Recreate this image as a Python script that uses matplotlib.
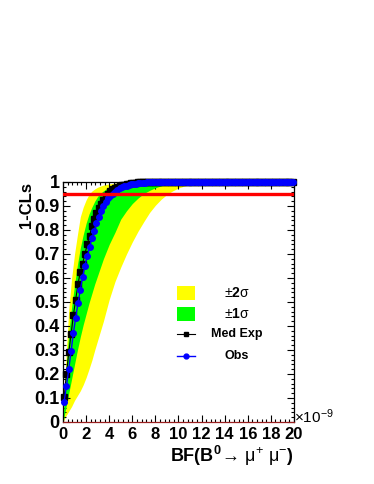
import numpy as np
import matplotlib
matplotlib.use("Agg")
import matplotlib.pyplot as plt
from matplotlib.patches import Rectangle
from matplotlib.lines import Line2D

plt.rcParams['font.family'] = ['Liberation Sans', 'DejaVu Sans']
plt.rcParams['mathtext.fontset'] = 'custom'
plt.rcParams['mathtext.rm'] = 'Liberation Sans'
plt.rcParams['mathtext.bf'] = 'Liberation Sans:bold'
plt.rcParams['mathtext.it'] = 'Liberation Sans:italic'

# scan points (units of 1e-9)
x_scan = np.round(np.arange(0.1, 20.0, 0.2), 1)

med_exp = [0.105, 0.20, 0.29, 0.365, 0.445, 0.51, 0.575, 0.625, 0.66, 0.70,
           0.74, 0.775, 0.815, 0.845, 0.87, 0.89, 0.91, 0.926, 0.94, 0.951,
           0.961, 0.969, 0.975, 0.979, 0.983, 0.986, 0.989, 0.991, 0.993, 0.995,
           0.996, 0.997, 0.998, 0.998, 0.999, 0.999, 0.999, 1.0, 1.0, 1.0,
           1.0, 1.0, 1.0, 1.0, 1.0, 1.0, 1.0, 1.0, 1.0, 1.0,
           1.0, 1.0, 1.0, 1.0, 1.0, 1.0, 1.0, 1.0, 1.0, 1.0,
           1.0, 1.0, 1.0, 1.0, 1.0, 1.0, 1.0, 1.0, 1.0, 1.0,
           1.0, 1.0, 1.0, 1.0, 1.0, 1.0, 1.0, 1.0, 1.0, 1.0,
           1.0, 1.0, 1.0, 1.0, 1.0, 1.0, 1.0, 1.0, 1.0, 1.0,
           1.0, 1.0, 1.0, 1.0, 1.0, 1.0, 1.0, 1.0, 1.0, 1.0]

obs = [0.085, 0.15, 0.22, 0.295, 0.37, 0.435, 0.495, 0.55, 0.605, 0.65,
       0.69, 0.73, 0.765, 0.797, 0.828, 0.855, 0.88, 0.90, 0.918, 0.932,
       0.943, 0.952, 0.96, 0.967, 0.973, 0.978, 0.982, 0.985, 0.988, 0.99,
       0.992, 0.993, 0.994, 0.995, 0.996, 0.997, 0.998, 0.998, 0.999, 0.999,
       0.999, 1.0, 1.0, 1.0, 1.0, 1.0, 1.0, 1.0, 1.0, 1.0,
       1.0, 1.0, 1.0, 1.0, 1.0, 1.0, 1.0, 1.0, 1.0, 1.0,
       1.0, 1.0, 1.0, 1.0, 1.0, 1.0, 1.0, 1.0, 1.0, 1.0,
       1.0, 1.0, 1.0, 1.0, 1.0, 1.0, 1.0, 1.0, 1.0, 1.0,
       1.0, 1.0, 1.0, 1.0, 1.0, 1.0, 1.0, 1.0, 1.0, 1.0,
       1.0, 1.0, 1.0, 1.0, 1.0, 1.0, 1.0, 1.0, 1.0, 1.0]

# expected bands
x_band = [0, 0.25, 0.5, 0.75, 1.0, 1.25, 1.5, 1.75, 2.0, 2.25, 2.5, 2.75, 3.0,
          3.25, 3.5, 3.75, 4.0, 4.5, 5.0, 5.5, 6.0, 6.5, 7.0, 7.5, 8.0, 8.5,
          9.0, 9.5, 10.0, 10.5, 11.0, 11.5, 12.0, 20.0]
up2 = [0, 0.26, 0.47, 0.60, 0.70, 0.78, 0.855, 0.895, 0.925, 0.948, 0.962, 0.971, 0.978,
       0.983, 0.987, 0.99, 0.992, 0.995, 0.997, 0.998, 0.999, 1.0, 1.0, 1.0, 1.0, 1.0,
       1.0, 1.0, 1.0, 1.0, 1.0, 1.0, 1.0, 1.0]
up1 = [0, 0.21, 0.37, 0.48, 0.57, 0.655, 0.725, 0.78, 0.828, 0.866, 0.895, 0.92, 0.94,
       0.953, 0.963, 0.971, 0.977, 0.985, 0.99, 0.994, 0.996, 0.998, 0.999, 1.0, 1.0, 1.0,
       1.0, 1.0, 1.0, 1.0, 1.0, 1.0, 1.0, 1.0]
lo1 = [0, 0.06, 0.12, 0.18, 0.24, 0.30, 0.355, 0.405, 0.45, 0.495, 0.535, 0.575, 0.61,
       0.645, 0.68, 0.71, 0.74, 0.79, 0.845, 0.88, 0.91, 0.933, 0.952, 0.965, 0.976, 0.984,
       0.99, 0.993, 0.995, 0.997, 0.998, 0.999, 1.0, 1.0]
lo2 = [0, 0.025, 0.045, 0.065, 0.09, 0.11, 0.13, 0.155, 0.185, 0.22, 0.257, 0.30, 0.34,
       0.38, 0.42, 0.465, 0.51, 0.585, 0.645, 0.70, 0.75, 0.795, 0.835, 0.873, 0.903, 0.928,
       0.948, 0.963, 0.975, 0.983, 0.989, 0.993, 0.996, 1.0]

cl_line = 0.95
x_ticks = [0, 2, 4, 6, 8, 10, 12, 14, 16, 18, 20]
y_ticks = [0, 0.1, 0.2, 0.3, 0.4, 0.5, 0.6, 0.7, 0.8, 0.9, 1.0]
y_ticklabels = ['0', '0.1', '0.2', '0.3', '0.4', '0.5', '0.6', '0.7', '0.8', '0.9', '1']

fig = plt.figure(figsize=(3.74, 4.84), dpi=100)
ax = fig.add_axes([0.1684, 0.1281, 0.6176, 0.4959])

ax.fill_between(x_band, lo2, up2, color='#ffff00', lw=0, zorder=1)
ax.fill_between(x_band, lo1, up1, color='#00ff00', lw=0, zorder=2)
ax.plot(x_scan, med_exp, color='black', lw=0.8, marker='s', ms=4, zorder=3, clip_on=False)
ax.plot(x_scan, obs, color='#0000ff', lw=1.0, marker='o', ms=4, zorder=4, clip_on=False)
ax.axhline(cl_line, color='#ff0000', lw=2.4, zorder=5)

ax.set_xlim(0, 20)
ax.set_ylim(0, 1)
ax.set_xticks(x_ticks)
ax.set_xticklabels([str(t) for t in x_ticks], fontweight='bold', fontsize=12)
ax.set_xticks(np.arange(0, 20.01, 0.4), minor=True)
ax.set_yticks(y_ticks)
ax.set_yticklabels(y_ticklabels, fontweight='bold', fontsize=13)
ax.set_yticks(np.arange(0, 1.001, 0.02), minor=True)
ax.tick_params(which='both', direction='in', top=True, right=True)
ax.tick_params(which='major', length=5, width=0.8)
ax.tick_params(which='minor', length=2.5, width=0.8)
ax.tick_params(axis='x', pad=3.5)
ax.tick_params(axis='y', pad=2.5)
for s in ax.spines.values():
    s.set_linewidth(0.9)
ax.spines['bottom'].set_color('#9a2020')

ax.text(-0.156, 1.0, '1-CLs', rotation=90, ha='center', va='top',
        transform=ax.transAxes, fontsize=12, fontweight='bold')
ax.text(1.0, -0.168, r'BF(B$^{\mathbf{0}}\!\rightarrow\,\mathrm{\mu}^{+}\ \mathrm{\mu}^{-}$)',
        ha='right', va='baseline', transform=ax.transAxes, fontsize=13, fontweight='bold')
ax.text(1.0, -0.004, r'$\times$10$^{-9}$', ha='left', va='baseline',
        transform=ax.transAxes, fontsize=11)

# legend
ax.add_patch(Rectangle((0.4935, 0.508), 0.078, 0.06, transform=ax.transAxes,
                       color='#ffff00', lw=0, clip_on=False, zorder=6))
ax.add_patch(Rectangle((0.4935, 0.421), 0.078, 0.06, transform=ax.transAxes,
                       color='#00ff00', lw=0, clip_on=False, zorder=6))
ax.add_line(Line2D([0.4935, 0.5325, 0.5714], [0.3667, 0.3667, 0.3667], transform=ax.transAxes,
                   color='black', lw=0.8, marker='s', ms=3.5, markevery=[1], zorder=6))
ax.add_line(Line2D([0.4935, 0.5325, 0.5714], [0.275, 0.275, 0.275], transform=ax.transAxes,
                   color='#0000ff', lw=1.0, marker='o', ms=3.5, markevery=[1], zorder=6))
leg_labels = [r'$\pm\mathbf{2}\mathrm{\sigma}$', r'$\pm\mathbf{1}\mathrm{\sigma}$', 'Med Exp', 'Obs']
leg_y = [0.5375, 0.45, 0.3667, 0.275]
for lab, yy in zip(leg_labels, leg_y):
    ax.text(0.7532, yy, lab, ha='center', va='center', transform=ax.transAxes,
            fontsize=10 if lab.startswith('$') else 9, fontweight='bold', zorder=6)

fig.savefig('out.png', dpi=100)
